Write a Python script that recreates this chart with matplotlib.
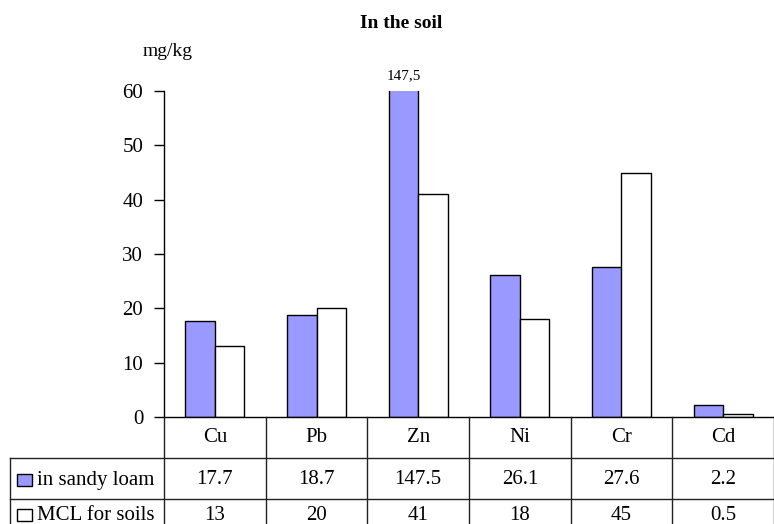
import matplotlib
matplotlib.use("Agg")
import matplotlib.pyplot as plt
import numpy as np
from matplotlib.lines import Line2D
from matplotlib.patches import Rectangle
from matplotlib.transforms import blended_transform_factory

elements = ["Cu", "Pb", "Zn", "Ni", "Cr", "Cd"]
sandy_loam = [17.7, 18.7, 147.5, 26.1, 27.6, 2.2]
mcl_soils = [13, 20, 41, 18, 45, 0.5]
series_names = ["in sandy loam", "MCL for soils"]
series_colors = ["#9999ff", "white"]
y_ticks = [0, 10, 20, 30, 40, 50, 60]
y_max = 60

plt.rcParams["font.family"] = ["Liberation Serif", "DejaVu Serif"]

W, H = 774, 524
fig = plt.figure(figsize=(W / 100, H / 100), dpi=100)
ax = fig.add_axes([164 / W, 107 / H, 610 / W, 326 / H])

x = np.arange(len(elements))
bw = 0.29
for i, (vals, col) in enumerate(zip([sandy_loam, mcl_soils], series_colors)):
    ax.bar(x + (i - 0.5) * bw, vals, bw, color=col, edgecolor="black",
           linewidth=1, zorder=2)

# values above the scale get printed over the clipped bar
for xi, v in zip(x, sandy_loam):
    if v > y_max:
        ax.annotate(f"{v}".replace(".", ","), (xi - bw / 2, y_max),
                    xytext=(0, 6), textcoords="offset points",
                    ha="center", va="bottom", fontsize=11,
                    annotation_clip=False)

ax.set_xlim(-0.5, len(elements) - 0.5)
ax.set_ylim(0, y_max)
ax.set_yticks(y_ticks)
ax.set_xticks([])
ax.tick_params(axis="y", direction="out", length=7, width=1, pad=8,
               labelsize=15)
for s in ("top", "right"):
    ax.spines[s].set_visible(False)
ax.spines["left"].set_linewidth(1)
ax.spines["bottom"].set_linewidth(1)

fig.text(401 / W, 1 - 24 / H, "In the soil", ha="center", va="center",
         fontsize=14, fontweight="bold")
fig.text(168 / W, 1 - 51 / H, "mg/kg", ha="center", va="center", fontsize=14)

# data table under the plot
tr = blended_transform_factory(ax.transData, fig.transFigure)
y_top = 107 / H
row_lines = [66 / H, 25 / H]
row_centres = [87 / H, 44 / H, 9 / H]
lc = "#222222"

for k in range(len(elements) + 1):
    fig.add_artist(Line2D([k - 0.5, k - 0.5], [y_top, 0], transform=tr,
                          color=lc, lw=1))
for yl in row_lines:
    fig.add_artist(Line2D([10 / W, 1], [yl, yl], transform=fig.transFigure,
                          color=lc, lw=1))
fig.add_artist(Line2D([10 / W, 10 / W], [row_lines[0], 0],
                      transform=fig.transFigure, color=lc, lw=1))

for xi, name in zip(x, elements):
    fig.text(xi, row_centres[0], name, transform=tr, ha="center",
             va="center", fontsize=15)
for r, vals in enumerate([sandy_loam, mcl_soils]):
    yc = row_centres[r + 1]
    for xi, v in zip(x, vals):
        fig.text(xi, yc, f"{v:g}", transform=tr, ha="center", va="center",
                 fontsize=15)
    fig.add_artist(Rectangle((17 / W, yc - 6 / H), 15 / W, 12 / H,
                             transform=fig.transFigure,
                             facecolor=series_colors[r], edgecolor="black",
                             lw=1))
    fig.text(37 / W, yc, series_names[r], ha="left", va="center",
             fontsize=15)

fig.savefig("out.png", dpi=100)
